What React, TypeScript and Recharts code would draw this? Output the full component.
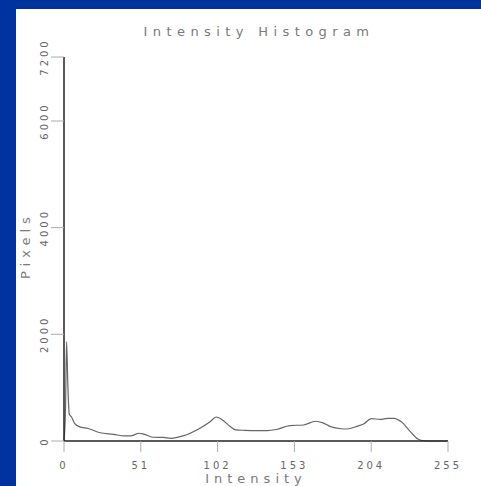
import React from "react";
import { LineChart, Line, XAxis, YAxis } from "recharts";

const intensity = [0, 1, 1.7, 2.5, 3.5, 5, 7, 10, 16, 24, 33, 40, 44, 50, 53, 59, 66, 71, 79, 90, 97, 101, 105, 110, 114, 120, 128, 135, 141, 150, 159, 167, 172, 177, 184, 188, 195, 199, 204, 210, 215, 219, 224, 230, 235, 239, 245, 255];
const pixels = [0, 600, 1860, 1100, 500, 450, 330, 270, 235, 155, 125, 95, 95, 145, 130, 70, 68, 50, 95, 235, 360, 450, 400, 280, 210, 200, 195, 195, 215, 290, 300, 370, 340, 270, 230, 225, 280, 320, 420, 405, 425, 425, 360, 175, 37, 5, 0, 0];
const xTicks = [0, 51, 102, 153, 204, 255];
const yTicks = [0, 2000, 4000, 6000, 7200];

const data = intensity.map((v, i) => ({ intensity: v, pixels: pixels[i] }));

const FONT = "'DejaVu Sans', sans-serif";
const TXT = "#7a7a7a";

const YTick = (props: any) => {
  const { x, y, payload } = props;
  return (
    <text
      x={x}
      y={y}
      transform={`rotate(-90 ${x} ${y})`}
      textAnchor="middle"
      fill="#666"
      fontSize={10}
      fontFamily={FONT}
      letterSpacing={3}
    >
      {payload.value}
    </text>
  );
};

const XTick = (props: any) => {
  const { x, y, payload } = props;
  return (
    <text
      x={x}
      y={y + 15}
      textAnchor="middle"
      fill="#666"
      fontSize={10}
      fontFamily={FONT}
      letterSpacing={3}
    >
      {payload.value}
    </text>
  );
};

export default function App() {
  return (
    <div style={{ position: "absolute", left: 0, top: 0, width: 481, height: 486, background: "#0033a0" }}>
      <div style={{ position: "absolute", left: 16, top: 9, width: 465, height: 477, background: "#ffffff" }}>
        <div
          style={{
            position: "absolute",
            left: 0,
            top: 15,
            width: 486,
            textAlign: "center",
            fontFamily: FONT,
            fontSize: 13,
            letterSpacing: 5.4,
            color: TXT,
          }}
        >
          Intensity Histogram
        </div>
        <LineChart width={465} height={477} data={data} margin={{ top: 48, right: 33, bottom: 0, left: 0 }}>
          <XAxis
            dataKey="intensity"
            type="number"
            domain={[0, 255]}
            ticks={xTicks}
            interval={0}
            tickSize={11}
            tickLine={{ stroke: "#aaa" }}
            axisLine={{ stroke: "#222", strokeWidth: 1.5 }}
            tick={<XTick />}
            height={45}
            label={{ value: "Intensity", position: "insideBottom", offset: 0, fill: TXT, fontSize: 13, fontFamily: FONT, letterSpacing: 5, dy: -3 }}
          />
          <YAxis
            type="number"
            domain={[0, 7200]}
            ticks={yTicks}
            interval={0}
            tickSize={13}
            tickMargin={3}
            tickLine={{ stroke: "#aaa" }}
            axisLine={{ stroke: "#222", strokeWidth: 1.5 }}
            tick={<YTick />}
            width={48}
            label={{ value: "Pixels", angle: -90, position: "insideLeft", offset: 4, fill: TXT, fontSize: 13, fontFamily: FONT, letterSpacing: 5, dx: 5, dy: 30 }}
          />
          <Line
            type="monotone"
            dataKey="pixels"
            stroke="#666"
            strokeWidth={1.2}
            dot={false}
            isAnimationActive={false}
          />
        </LineChart>
      </div>
    </div>
  );
}
